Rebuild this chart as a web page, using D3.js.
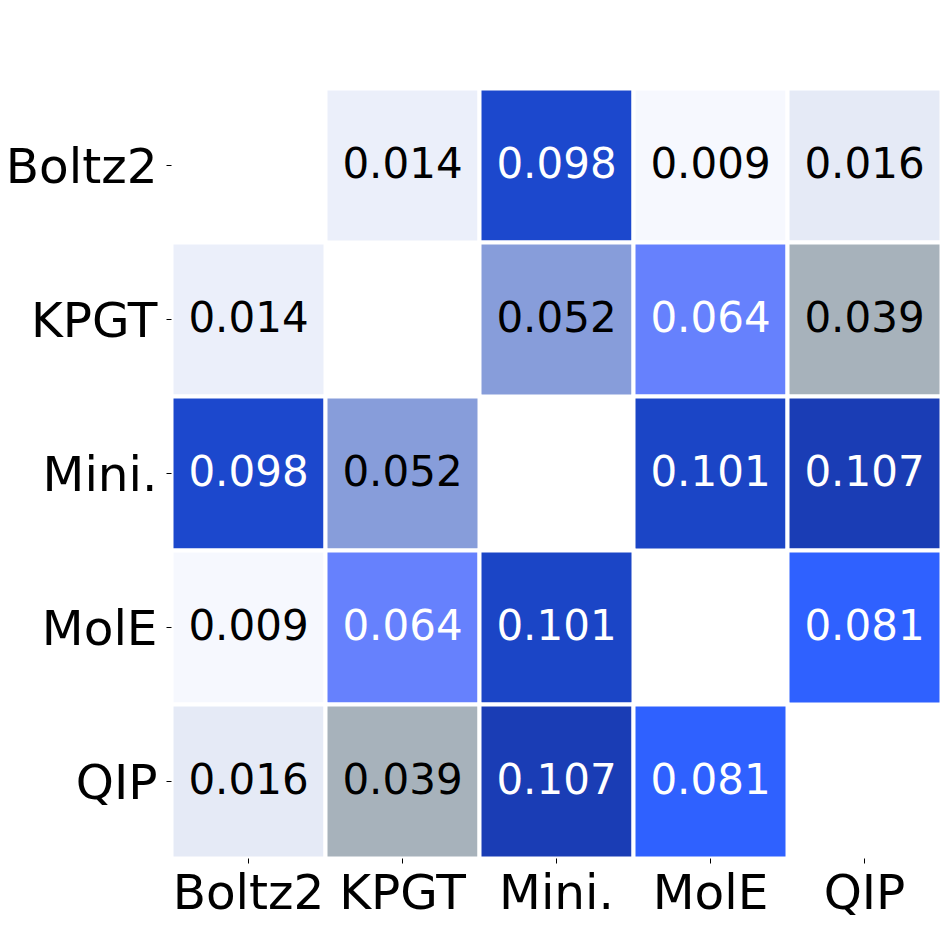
<!DOCTYPE html>
<html>
<head>
<meta charset="utf-8">
<script src="https://cdn.jsdelivr.net/npm/d3@7"></script>
<style>
  html, body { margin: 0; padding: 0; background: #ffffff; }
  svg { display: block; }
  text { font-family: "DejaVu Sans", sans-serif; }
</style>
</head>
<body>
<div id="chart"></div>
<script>
// ---- data ----
const categories = ["Boltz2", "KPGT", "Mini.", "MolE", "QIP"];
const rowBoltz2 = [null, 0.014, 0.098, 0.009, 0.016];
const rowKPGT   = [0.014, null, 0.052, 0.064, 0.039];
const rowMini   = [0.098, 0.052, null, 0.101, 0.107];
const rowMolE   = [0.009, 0.064, 0.101, null, 0.081];
const rowQIP    = [0.016, 0.039, 0.107, 0.081, null];
const matrix = [rowBoltz2, rowKPGT, rowMini, rowMolE, rowQIP];

// colour map stops (value -> colour)
const colorStops = [0.009, 0.014, 0.016, 0.039, 0.052, 0.064, 0.081, 0.098, 0.101, 0.107];
const colorValues = ["#f6f8fe", "#ebeffa", "#e5eaf6", "#a7b2bb", "#879dda", "#6681fd", "#2f61ff", "#1c48cd", "#1b45c6", "#1a3db5"];

// ---- layout ----
const W = 947, H = 947;
const plotLeft = 171.5, plotTop = 88.5, plotSize = 770;

const svg = d3.select("#chart").append("svg").attr("width", W).attr("height", H);

const x = d3.scaleBand().domain(categories).range([plotLeft, plotLeft + plotSize]);
const y = d3.scaleBand().domain(categories).range([plotTop, plotTop + plotSize]);
const color = d3.scaleLinear().domain(colorStops).range(colorValues).clamp(true);

const cells = [];
matrix.forEach((row, i) => row.forEach((v, j) => {
  if (v !== null) cells.push({ r: categories[i], c: categories[j], v });
}));

const g = svg.append("g");
g.selectAll("rect").data(cells).enter().append("rect")
  .attr("x", d => x(d.c))
  .attr("y", d => y(d.r))
  .attr("width", x.bandwidth())
  .attr("height", y.bandwidth())
  .attr("fill", d => color(d.v))
  .attr("stroke", "#ffffff")
  .attr("stroke-width", 4);

g.selectAll("text.ann").data(cells).enter().append("text")
  .attr("class", "ann")
  .attr("x", d => x(d.c) + x.bandwidth() / 2)
  .attr("y", d => y(d.r) + y.bandwidth() / 2 + 12)
  .attr("text-anchor", "middle")
  .attr("font-size", 42)
  .attr("fill", d => d.v >= 0.06 ? "#ffffff" : "#000000")
  .text(d => d.v.toFixed(3));

// axes
const xAxis = d3.axisBottom(x).tickSize(5).tickPadding(8);
const xg = svg.append("g").attr("transform", `translate(0,${plotTop + plotSize})`).call(xAxis);
xg.select(".domain").remove();
xg.selectAll(".tick line").attr("stroke", "#000").attr("stroke-width", 1);
xg.selectAll(".tick text")
  .attr("font-size", 48.5)
  .attr("font-family", "DejaVu Sans, sans-serif")
  .attr("fill", "#000")
  .attr("dy", null)
  .attr("y", 50.5);

const yAxis = d3.axisLeft(y).tickSize(5).tickPadding(9);
const yg = svg.append("g").attr("transform", `translate(${plotLeft},0)`).call(yAxis);
yg.select(".domain").remove();
yg.selectAll(".tick line").attr("stroke", "#000").attr("stroke-width", 1);
yg.selectAll(".tick text")
  .attr("font-size", 48.5)
  .attr("font-family", "DejaVu Sans, sans-serif")
  .attr("fill", "#000")
  .attr("dy", null)
  .attr("y", 17.5);
</script>
</body>
</html>
